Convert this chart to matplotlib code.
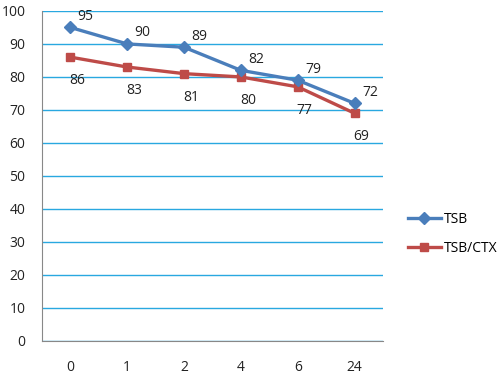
import matplotlib
matplotlib.use("Agg")
import matplotlib.pyplot as plt

categories = ["0", "1", "2", "4", "6", "24"]
tsb = [95, 90, 89, 82, 79, 72]
tsb_ctx = [86, 83, 81, 80, 77, 69]
yticks = [0, 10, 20, 30, 40, 50, 60, 70, 80, 90, 100]

plt.rcParams['font.family'] = ['Open Sans', 'DejaVu Sans']

fig = plt.figure(figsize=(5.0, 3.77), dpi=100)
ax = fig.add_axes([0.084, 0.0955, 0.682, 0.8755])

x = list(range(len(categories)))
blue = '#4A7EBB'
red = '#BE4B48'
ax.plot(x, tsb, color=blue, lw=2.4, marker='D', ms=6.5, label='TSB', zorder=4)
ax.plot(x, tsb_ctx, color=red, lw=2.4, marker='s', ms=5.5, label='TSB/CTX', zorder=3)

fs = 10
for xi, v in zip(x, tsb):
    ax.annotate(str(v), (xi, v), xytext=(11, 8), textcoords='offset points',
                ha='center', va='center', fontsize=fs, color='#222222')
for xi, v in zip(x, tsb_ctx):
    ax.annotate(str(v), (xi, v), xytext=(5, -17), textcoords='offset points',
                ha='center', va='center', fontsize=fs, color='#222222')

ax.set_xlim(-0.5, len(categories) - 0.5)
ax.set_ylim(0, 100)
ax.set_yticks(yticks)
ax.set_xticks(x)
ax.set_xticklabels(categories)
ax.yaxis.grid(True, color='#29A8E0', lw=1)
ax.set_axisbelow(True)
for s in ['top', 'right']:
    ax.spines[s].set_visible(False)
for s in ['left', 'bottom']:
    ax.spines[s].set_color('#888888')
ax.tick_params(axis='both', length=0, labelsize=fs, colors='#222222')
ax.tick_params(axis='x', pad=14)
ax.tick_params(axis='y', pad=12)

fig.legend(loc='center left', bbox_to_anchor=(0.79, 0.38), frameon=False,
           fontsize=fs, handlelength=2.4, handletextpad=0.2, labelspacing=1.0)

fig.savefig('out.png', dpi=100)
